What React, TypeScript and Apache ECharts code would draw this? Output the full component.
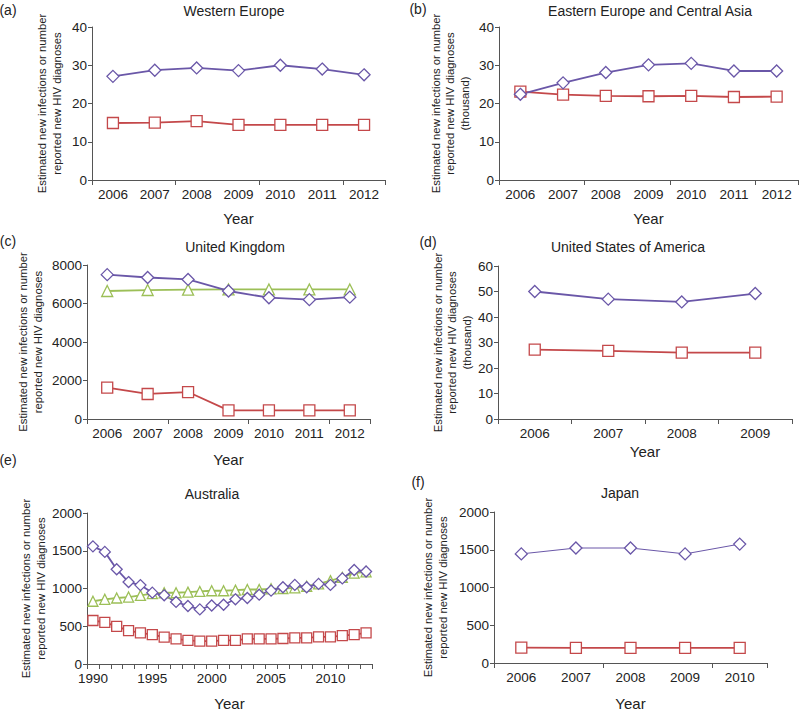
import React, { useEffect, useRef } from "react";
import * as echarts from "echarts";

// ---------- data ----------
const yearsA = ["2006", "2007", "2008", "2009", "2010", "2011", "2012"];
const westEstimated = [27.1, 28.7, 29.3, 28.6, 30.0, 29.0, 27.5];
const westReported = [14.9, 15.0, 15.4, 14.4, 14.4, 14.4, 14.4];

const yearsB = ["2006", "2007", "2008", "2009", "2010", "2011", "2012"];
const eastEstimated = [22.4, 25.4, 28.1, 30.1, 30.5, 28.5, 28.5];
const eastReported = [23.1, 22.3, 22.0, 21.9, 22.0, 21.7, 21.8];

const yearsC = ["2006", "2007", "2008", "2009", "2010", "2011", "2012"];
const ukEstimated = [7500, 7350, 7250, 6650, 6300, 6200, 6330];
const ukDiagnosed = [6650, 6700, 6720, 6730, 6730, 6730, 6730];
const ukReported = [1630, 1300, 1400, 450, 450, 450, 450];

const yearsD = ["2006", "2007", "2008", "2009"];
const usaEstimated = [50.0, 47.0, 45.9, 49.2];
const usaReported = [27.2, 26.7, 26.0, 26.0];

const yearsE = [
  "1990", "1991", "1992", "1993", "1994", "1995", "1996", "1997", "1998", "1999", "2000", "2001",
  "2002", "2003", "2004", "2005", "2006", "2007", "2008", "2009", "2010", "2011", "2012", "2013",
];
const ausEstimated = [
  1558, 1485, 1255, 1085, 1045, 945, 910, 822, 768, 723, 775, 785,
  857, 874, 918, 972, 1017, 1048, 1017, 1061, 1048, 1134, 1245, 1225,
];
const ausDiagnosed = [
  831, 857, 874, 887, 909, 931, 944, 944, 952, 961, 970, 970,
  978, 987, 987, 996, 1000, 1009, 1030, 1061, 1104, 1147, 1203, 1221,
];
const ausReported = [
  576, 550, 498, 442, 411, 390, 355, 333, 312, 303, 303, 312,
  312, 333, 333, 333, 338, 346, 346, 359, 359, 377, 390, 411,
];

const yearsF = ["2006", "2007", "2008", "2009", "2010"];
const japanEstimated = [1445, 1523, 1523, 1445, 1575];
const japanReported = [203, 200, 200, 200, 200];

const titles = [
  "Western Europe",
  "Eastern Europe and Central Asia",
  "United Kingdom",
  "United States of America",
  "Australia",
  "Japan",
];
const panelLetters = ["(a)", "(b)", "(c)", "(d)", "(e)", "(f)"];
const yNameTwo = "Estimated new infections or number\nreported new HIV diagnoses";
const yNameThree = yNameTwo + "\n(thousand)";

// ---------- styles ----------
const FONT = "'Liberation Sans', Arial, Helvetica, sans-serif";
const PURPLE = "#6a57a8";
const RED = "#c4484a";
const GREEN = "#9cbf57";
const AXIS = "#555555";
const TEXT = "#222222";

function mkX(gi: number, data: string[], tickInterval: number, labelInterval: number, nameGap: number) {
  return {
    type: "category",
    gridIndex: gi,
    data,
    boundaryGap: true,
    name: "Year",
    nameLocation: "middle",
    nameGap,
    nameTextStyle: { fontSize: 15, color: TEXT, fontFamily: FONT },
    axisLine: { show: true, lineStyle: { color: AXIS, width: 1 } },
    axisTick: { show: true, interval: tickInterval, length: 5, lineStyle: { color: AXIS } },
    axisLabel: { interval: labelInterval, fontSize: 13.5, color: TEXT, fontFamily: FONT, margin: 7 },
    splitLine: { show: false },
  };
}

function mkY(gi: number, max: number, interval: number, name: string, nameGap: number) {
  return {
    type: "value",
    gridIndex: gi,
    min: 0,
    max,
    interval,
    name,
    nameLocation: "middle",
    nameRotate: 90,
    nameGap,
    nameTextStyle: { fontSize: 11.3, color: TEXT, fontFamily: FONT, lineHeight: 14.5, align: "center" },
    axisLine: { show: true, lineStyle: { color: AXIS, width: 1 } },
    axisTick: { show: true, length: 4, lineStyle: { color: AXIS } },
    axisLabel: {
      fontSize: 13.5,
      color: TEXT,
      fontFamily: FONT,
      margin: 5,
      formatter: (v: number) => String(v),
    },
    splitLine: { show: false },
  };
}

function mkLine(idx: number, data: number[], color: string, symbol: string, size: number, width = 1.8) {
  return {
    type: "line",
    xAxisIndex: idx,
    yAxisIndex: idx,
    data,
    symbol,
    symbolSize: size,
    showSymbol: true,
    showAllSymbol: true,
    lineStyle: { color, width },
    itemStyle: { color: "#ffffff", borderColor: color, borderWidth: 1.3 },
    emphasis: { disabled: true },
  };
}

export default function App() {
  const ref = useRef<HTMLDivElement>(null);
  useEffect(() => {
    if (!ref.current) return;
    const chart = echarts.init(ref.current, null, { renderer: "svg" });

    const titlePos = [
      [234, 11],
      [650, 11],
      [235, 247],
      [628, 247],
      [212, 494],
      [620, 493],
    ];
    const letterPos = [
      [8, 10],
      [418, 9],
      [8, 241],
      [428, 242],
      [8, 460],
      [418, 482],
    ];

    const graphic: any[] = [];
    titles.forEach((t, i) => {
      graphic.push({
        type: "text",
        x: titlePos[i][0],
        y: titlePos[i][1],
        style: { text: t, fontSize: 14, fontFamily: FONT, fill: TEXT, align: "center", verticalAlign: "middle" },
      });
      graphic.push({
        type: "text",
        x: letterPos[i][0],
        y: letterPos[i][1],
        style: { text: panelLetters[i], fontSize: 14, fontFamily: FONT, fill: TEXT, align: "center", verticalAlign: "middle" },
      });
    });

    const option: any = {
      animation: false,
      backgroundColor: "#ffffff",
      grid: [
        { left: 92, top: 27, width: 293, height: 153 },
        { left: 499, top: 27, width: 299, height: 153 },
        { left: 87, top: 265, width: 283, height: 154 },
        { left: 498, top: 266, width: 294, height: 153 },
        { left: 87, top: 513, width: 285, height: 154 },
        { left: 494, top: 512, width: 273, height: 154 },
      ],
      xAxis: [
        mkX(0, yearsA, 1, 0, 31),
        mkX(1, yearsB, 1, 0, 31),
        mkX(2, yearsC, 1, 0, 33),
        mkX(3, yearsD, 0, 0, 25),
        mkX(4, yearsE, 0, 4, 32),
        mkX(5, yearsF, 1, 0, 33),
      ],
      yAxis: [
        mkY(0, 40, 10, yNameTwo, 28),
        mkY(1, 40, 10, yNameThree, 27),
        mkY(2, 8000, 2000, yNameTwo, 42),
        mkY(3, 60, 10, yNameThree, 24),
        mkY(4, 2000, 500, yNameTwo, 37),
        mkY(5, 2000, 500, yNameTwo, 44),
      ],
      series: [
        mkLine(0, westReported, RED, "rect", 11),
        mkLine(0, westEstimated, PURPLE, "diamond", 12),
        mkLine(1, eastReported, RED, "rect", 11),
        mkLine(1, eastEstimated, PURPLE, "diamond", 12),
        mkLine(2, ukReported, RED, "rect", 11),
        mkLine(2, ukDiagnosed, GREEN, "triangle", 11),
        mkLine(2, ukEstimated, PURPLE, "diamond", 12),
        mkLine(3, usaReported, RED, "rect", 11),
        mkLine(3, usaEstimated, PURPLE, "diamond", 12),
        mkLine(4, ausReported, RED, "rect", 10),
        mkLine(4, ausDiagnosed, GREEN, "triangle", 10),
        mkLine(4, ausEstimated, PURPLE, "diamond", 11),
        mkLine(5, japanReported, RED, "rect", 11),
        mkLine(5, japanEstimated, PURPLE, "diamond", 12, 1),
      ],
      graphic,
    };
    chart.setOption(option);
    return () => chart.dispose();
  }, []);
  return (
    <div
      ref={ref}
      style={{ position: "absolute", left: 0, top: 0, width: 800, height: 712, background: "#fff" }}
    />
  );
}
